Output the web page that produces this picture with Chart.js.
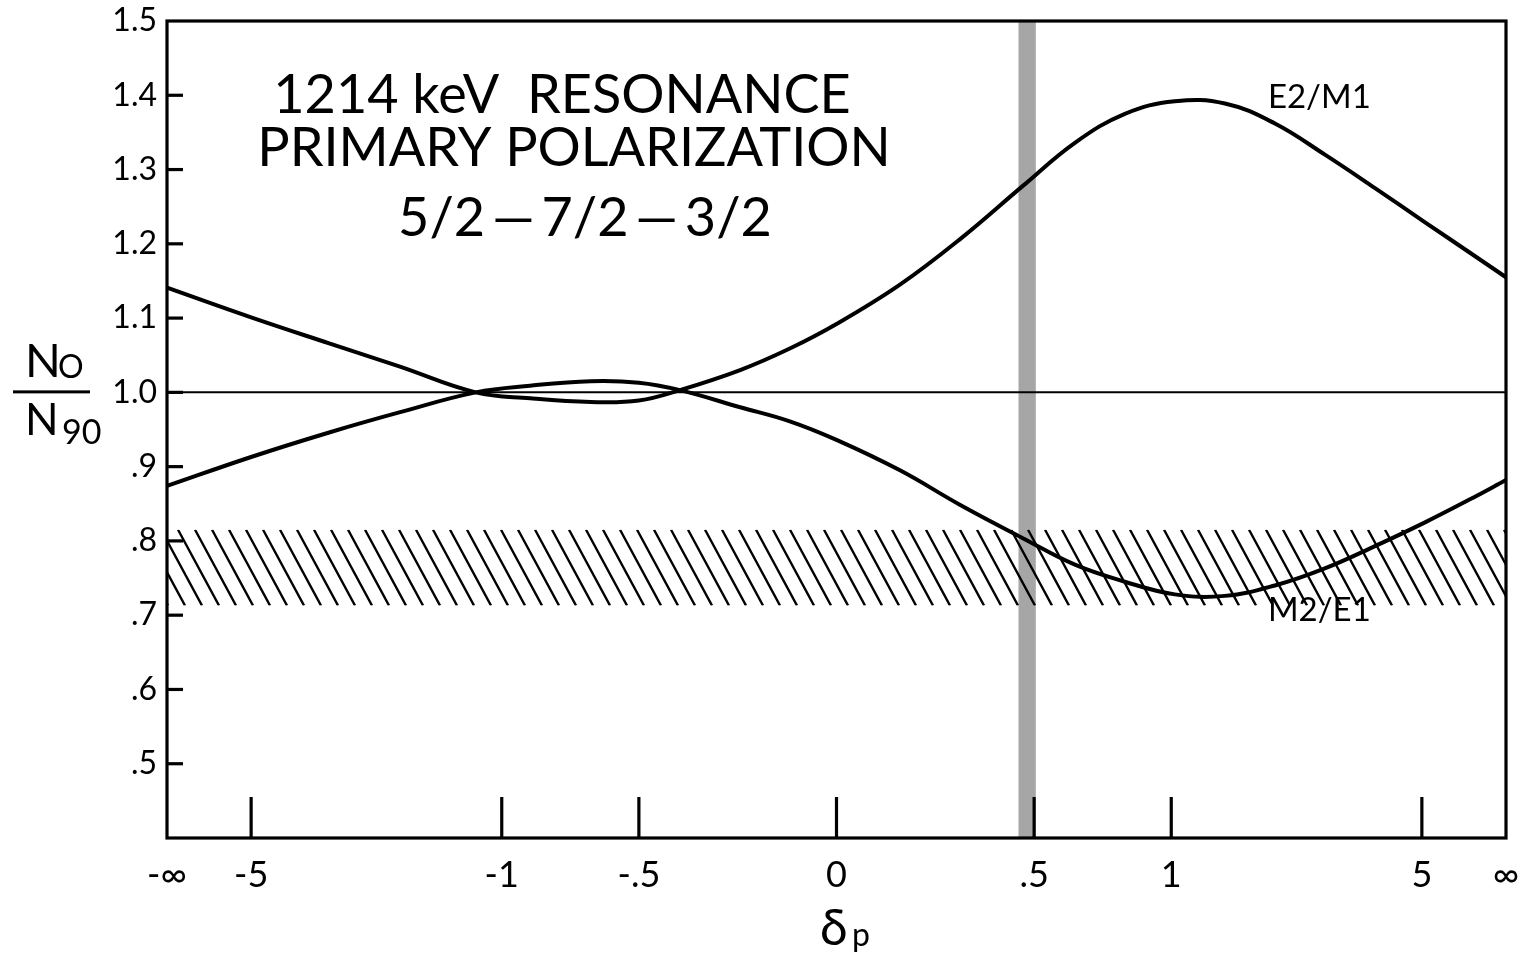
<!DOCTYPE html>
<html><head><meta charset="utf-8">
<script src="https://cdn.jsdelivr.net/npm/chart.js@4.4.1/dist/chart.umd.min.js"></script>
<style>html,body{margin:0;padding:0;background:#fff;} #wrap{position:relative;width:1523px;height:953px;}</style>
</head><body><div id="wrap"><canvas id="c" width="1523" height="953"></canvas></div>
<script>
// ---- data ----
const deltaSamples = [-Infinity, -5, -2.5, -1.65, -1.13, -0.875, -0.65, -0.5, -0.385, -0.23, -0.11, 0, 0.15, 0.3, 0.47, 0.626, 0.803, 1.017, 1.29, 1.66, 2.21, 3.15, 5.2, 11.8, Infinity];
const e2m1 = [1.141, 1.101, 1.066, 1.035, 1.000, 0.992, 0.987, 0.989, 1.003, 1.030, 1.059, 1.092, 1.145, 1.207, 1.279, 1.336, 1.375, 1.392, 1.389, 1.362, 1.320, 1.275, 1.229, 1.188, 1.155];
const m2e1 = [0.874, 0.913, 0.946, 0.973, 1.000, 1.009, 1.015, 1.013, 1.003, 0.980, 0.961, 0.936, 0.895, 0.848, 0.803, 0.768, 0.745, 0.728, 0.726, 0.740, 0.763, 0.793, 0.825, 0.856, 0.882];
const xTickDeltas = [-Infinity, -5, -1, -0.5, 0, 0.5, 1, 5, Infinity];
const xTickLabels = ['-\u221E', '-5', '-1', '-.5', '0', '.5', '1', '5', '\u221E'];
const yTickValues = [1.5, 1.4, 1.3, 1.2, 1.1, 1.0, 0.9, 0.8, 0.7, 0.6, 0.5];
const yTickLabels = ['1.5', '1.4', '1.3', '1.2', '1.1', '1.0', '.9', '.8', '.7', '.6', '.5'];
const yRange = [0.4, 1.5];
const unityLevel = 1.0;
const hatchBand = [0.713, 0.815];
const shadedDelta = [0.455, 0.505];
const seriesNames = ['E2/M1', 'M2/E1'];
const seriesLabelAt = [[1.6, 1.397], [1.6, 0.707]];
const titleLines = ['1214 keV  RESONANCE', 'PRIMARY POLARIZATION', '5/2\u2009\u2014\u20097/2\u2009\u2014\u20093/2'];

// ---- helpers ----
const toDeg = d => Math.atan(d) * 180 / Math.PI;
const FONT = 'Lato, "Open Sans", sans-serif';

const pts = arr => deltaSamples.map((d, i) => ({x: toDeg(d), y: arr[i]}));

const decor = {
  id: 'decor',
  beforeDatasetsDraw(chart) {
    const {ctx, chartArea: a, scales: {x, y}} = chart;
    ctx.save();
    // vertical shaded band
    const bx0 = x.getPixelForValue(toDeg(shadedDelta[0]));
    const bx1 = x.getPixelForValue(toDeg(shadedDelta[1]));
    ctx.fillStyle = '#a6a6a6';
    ctx.fillRect(bx0, a.top, bx1 - bx0, a.bottom - a.top);
    // hatched band
    const hy0 = y.getPixelForValue(hatchBand[1]);
    const hy1 = y.getPixelForValue(hatchBand[0]);
    ctx.beginPath();
    ctx.rect(a.left, hy0, a.right - a.left, hy1 - hy0);
    ctx.clip();
    ctx.strokeStyle = '#000';
    ctx.lineWidth = 2.4;
    const h = hy1 - hy0;
    const dx = h * 40 / 74;
    const step = 17;
    ctx.beginPath();
    for (let sx = a.left - dx - step; sx < a.right + step; sx += step) {
      ctx.moveTo(sx + 18, hy0);
      ctx.lineTo(sx + 18 + dx, hy1);
    }
    ctx.stroke();
    ctx.restore();
  },
  afterDatasetsDraw(chart) {
    const {ctx, chartArea: a, scales: {x, y}} = chart;
    ctx.save();
    ctx.strokeStyle = '#000';
    ctx.lineCap = 'butt';
    // frame
    ctx.lineWidth = 3.2;
    ctx.strokeRect(a.left, a.top, a.right - a.left, a.bottom - a.top);
    // inward y ticks
    y.ticks.forEach(t => {
      const py = y.getPixelForValue(t.value);
      if (Math.abs(py - a.top) < 2) return;
      ctx.beginPath(); ctx.moveTo(a.left, py); ctx.lineTo(a.left + 16, py); ctx.stroke();
    });
    // inward x ticks
    x.ticks.forEach(t => {
      const px = x.getPixelForValue(t.value);
      if (Math.abs(px - a.left) < 2 || Math.abs(px - a.right) < 2) return;
      ctx.beginPath(); ctx.moveTo(px, a.bottom); ctx.lineTo(px, a.bottom - 41); ctx.stroke();
    });
    ctx.fillStyle = '#000';
    // title block
    ctx.textAlign = 'center';
    ctx.textBaseline = 'alphabetic';
    ctx.font = '54px ' + FONT;
    const cx = a.left + 407;
    ctx.fillText(titleLines[0], cx - 12, a.top + 92);
    ctx.fillText(titleLines[1], cx, a.top + 145);
    ctx.fillText(titleLines[2], cx + 11, a.top + 215);
    // series labels
    ctx.font = '33px ' + FONT;
    ctx.textAlign = 'left';
    ctx.textBaseline = 'middle';
    seriesNames.forEach((n, i) => {
      const [d, v] = seriesLabelAt[i];
      ctx.fillText(n, x.getPixelForValue(toDeg(d)), y.getPixelForValue(v));
    });
    // y axis title N0 / N90
    const yc = y.getPixelForValue(unityLevel);
    ctx.textBaseline = 'alphabetic';
    ctx.font = '47px ' + FONT;
    ctx.fillText('N', 25, yc - 15);
    ctx.font = '32px ' + FONT;
    ctx.fillText('O', 58, yc - 14);
    ctx.fillRect(13, yc - 2, 77, 3);
    ctx.font = '44px ' + FONT;
    ctx.fillText('N', 25, yc + 43);
    ctx.font = '34px ' + FONT;
    ctx.fillText('90', 62, yc + 52);
    // x axis title delta_p
    ctx.font = '50px ' + FONT;
    ctx.fillText('\u03B4', 820, 945);
    ctx.font = '32px ' + FONT;
    ctx.fillText('p', 852, 946);
    ctx.restore();
  }
};

new Chart(document.getElementById('c'), {
  type: 'line',
  data: {
    datasets: [
      {label: seriesNames[0], data: pts(e2m1), borderColor: '#000', borderWidth: 4, pointRadius: 0, tension: 0.4, fill: false},
      {label: seriesNames[1], data: pts(m2e1), borderColor: '#000', borderWidth: 4, pointRadius: 0, tension: 0.4, fill: false},
      {label: 'unity', data: [{x: toDeg(-Infinity), y: unityLevel}, {x: toDeg(Infinity), y: unityLevel}], borderColor: '#000', borderWidth: 2, pointRadius: 0, fill: false}
    ]
  },
  options: {
    responsive: false,
    animation: false,
    events: [],
    layout: {padding: {top: 21, right: 17, left: 0, bottom: 0}},
    plugins: {legend: {display: false}, tooltip: {enabled: false}, title: {display: false}},
    scales: {
      x: {
        type: 'linear', min: -90, max: 90,
        afterBuildTicks: s => { s.ticks = xTickDeltas.map(d => ({value: toDeg(d)})); },
        afterFit: s => { s.height = 115; s.paddingLeft = 0; s.paddingRight = 0; },
        ticks: {callback: (v, i) => xTickLabels[i], autoSkip: false, maxRotation: 0, color: '#000', padding: 16, font: {family: FONT, size: 36}},
        grid: {display: false, drawTicks: false},
        border: {display: false}
      },
      y: {
        type: 'linear', min: yRange[0], max: yRange[1],
        afterBuildTicks: s => { s.ticks = yTickValues.map(v => ({value: v})); },
        afterFit: s => { s.width = 167; s.paddingTop = 0; s.paddingBottom = 0; },
        ticks: {callback: (v, i) => yTickLabels[i], autoSkip: false, color: '#000', padding: 10, font: {family: FONT, size: 32}},
        grid: {display: false, drawTicks: false},
        border: {display: false}
      }
    }
  },
  plugins: [decor]
});
</script>
</body></html>
